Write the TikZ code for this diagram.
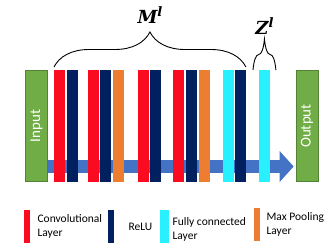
\documentclass[tikz,border=0pt]{standalone}
\usepackage{fontspec}
\setmainfont{Carlito}
\newfontfamily\bracefont{DejaVu Serif}
\usetikzlibrary{positioning, arrows.meta, decorations.pathreplacing}
\definecolor{convred}{HTML}{FB0B1F}
\definecolor{relunavy}{HTML}{002060}
\definecolor{fccyan}{HTML}{28F0FF}
\definecolor{poolorange}{HTML}{ED7D31}
\definecolor{iogreen}{HTML}{70AD47}
\definecolor{iogreendark}{HTML}{548235}
\definecolor{flowblue}{HTML}{4472C4}
\newcommand{\suplbl}[2]{#1\raisebox{7pt}{\fontsize{13}{13}\selectfont #2}}

\begin{document}
\begin{tikzpicture}[
  x=1pt, y=-1pt,
  layer/.style={fill=#1, draw=none, minimum width=10.5pt, minimum height=112pt,
                inner sep=0pt, anchor=north west},
  iobox/.style={fill=iogreen, draw=iogreendark, line width=0.6pt, rotate=90,
                minimum width=111pt, minimum height=22pt, inner sep=0pt,
                text=white, font=\fontsize{15}{15}\selectfont},
  flow/.style={line width=13pt, draw=flowblue, shorten >=2pt,
               -{Triangle[length=14pt, width=30pt]}},
  brc/.style={decorate, decoration={brace, amplitude=#1}, line width=0.9pt},
  bracelbl/.style={font=\fontsize{18}{18}\selectfont\bracefont\bfseries\itshape},
  swatch/.style={fill=#1, draw=none, minimum width=6pt, minimum height=33pt,
                 inner sep=0pt, anchor=north west},
  legtext/.style={font=\fontsize{11.5}{14}\selectfont, align=left, inner sep=0pt}
]
\useasboundingbox (0,0) rectangle (332,246);

% input and output blocks
\node[iobox] (input)  at (36.5,126) {Input};
\node[iobox] (output) at (307,126)  {Output};

% data flow behind the layers
\draw[flow] (input.south |- 0,166.5) -- (output.north |- 0,166.5);

% network layers
\foreach \xl/\col [count=\i] in {54/convred, 67/relunavy, 88/convred, 100/relunavy,
    113/poolorange, 138/convred, 150/relunavy, 173/convred, 186/relunavy,
    199/poolorange, 223/fccyan, 235/relunavy, 259/fccyan}
  \node[layer=\col] (l\i) at (\xl,70) {};

% braces
\draw[brc=35pt] ([yshift=3pt]l1.north west) -- ([yshift=3pt]l12.north east)
  node[midway, yshift=52pt, bracelbl] (mlbl) {\suplbl{M}{l}};
\draw[brc=31pt] ([xshift=-6pt]l13.north west) -- ([xshift=6pt]l13.north east)
  node[midway, yshift=44pt, bracelbl] (zlbl) {\suplbl{Z}{l}};

% legend
\node[swatch=convred]    (sconv) at (24,210)  {};
\node[swatch=relunavy]   (srelu) at (108,210) {};
\node[swatch=fccyan, minimum width=9pt] (sfc) at (160,210) {};
\node[swatch=poolorange] (spool) at (254,208) {};
\node[legtext, right=7pt of sconv] (tconv) {Convolutional\\Layer};
\node[legtext, right=14pt of srelu] (trelu) {ReLU};
\node[legtext, right=3pt of sfc, yshift=-2.5pt] (tfc) {Fully connected\\Layer};
\node[legtext, right=6pt of spool] (tpool) {Max Pooling\\Layer};
\end{tikzpicture}
\end{document}
